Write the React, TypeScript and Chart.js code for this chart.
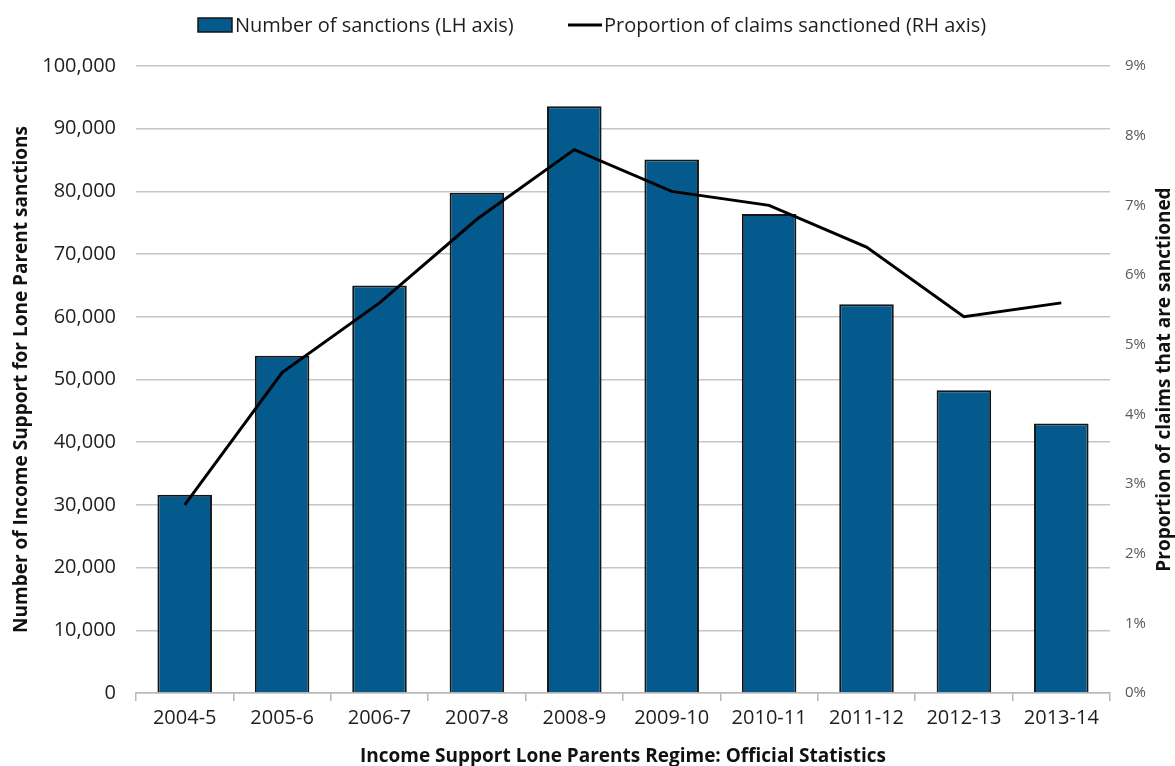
import { useEffect, useRef } from "react";
import { Chart, registerables } from "chart.js";

Chart.register(...registerables);

// Financial years on the category axis
const years = [
  "2004-5",
  "2005-6",
  "2006-7",
  "2007-8",
  "2008-9",
  "2009-10",
  "2010-11",
  "2011-12",
  "2012-13",
  "2013-14",
];

// Number of Income Support Lone Parent sanctions (left axis)
const sanctions = [31600, 53800, 65000, 79800, 93600, 85100, 76400, 62000, 48300, 43000];

// Proportion of claims sanctioned, in percent (right axis)
const proportion = [2.7, 4.6, 5.6, 6.8, 7.8, 7.2, 7.0, 6.4, 5.4, 5.6];

const barLabel = "Number of sanctions (LH axis)";
const lineLabel = "Proportion of claims sanctioned (RH axis)";
const leftTitle = "Number of Income Support for Lone Parent sanctions";
const rightTitle = "Proportion of claims that are sanctioned";
const bottomTitle = "Income Support Lone Parents Regime: Official Statistics";

const FONT = "'Open Sans', 'Noto Sans', sans-serif";
const BAR_FILL = "#045a8d";
const BAR_EDGE = "#151515";
const GRID = "#c6c6c6";
const TEXT = "#1e1e1e";

// Legend along the top and the three axis titles, drawn on the canvas
const decorations = {
  id: "decorations",
  afterDraw(chart: Chart) {
    const ctx = chart.ctx;
    const area = chart.chartArea;
    const midY = (area.top + area.bottom) / 2;
    ctx.save();

    // legend
    ctx.font = `20px ${FONT}`;
    ctx.textBaseline = "middle";
    ctx.textAlign = "left";
    const ly = 25;
    ctx.fillStyle = BAR_FILL;
    ctx.fillRect(198, ly - 7, 34, 14);
    ctx.strokeStyle = BAR_EDGE;
    ctx.lineWidth = 1.5;
    ctx.strokeRect(198, ly - 7, 34, 14);
    ctx.fillStyle = TEXT;
    ctx.fillText(barLabel, 235, ly + 1);
    ctx.strokeStyle = "#000";
    ctx.lineWidth = 3;
    ctx.beginPath();
    ctx.moveTo(568, ly);
    ctx.lineTo(602, ly);
    ctx.stroke();
    ctx.fillText(lineLabel, 604, ly + 1);

    // axis titles
    ctx.font = `bold 19px ${FONT}`;
    ctx.textAlign = "center";
    ctx.fillStyle = "#111";
    ctx.fillText(bottomTitle, (area.left + area.right) / 2, 757);

    ctx.save();
    ctx.translate(22, midY);
    ctx.rotate(-Math.PI / 2);
    ctx.fillText(leftTitle, 0, 0);
    ctx.restore();

    ctx.save();
    ctx.translate(1165, midY);
    ctx.rotate(-Math.PI / 2);
    ctx.fillText(rightTitle, 0, 0);
    ctx.restore();

    ctx.restore();
  },
};

export default function App() {
  const canvasRef = useRef<HTMLCanvasElement | null>(null);

  useEffect(() => {
    document.body.style.margin = "0";
    const canvas = canvasRef.current;
    if (!canvas) return;

    const chart = new Chart(canvas, {
      type: "bar",
      data: {
        labels: years,
        datasets: [
          {
            type: "line",
            label: lineLabel,
            data: proportion,
            yAxisID: "y1",
            borderColor: "#000",
            borderWidth: 3,
            pointRadius: 0,
            tension: 0,
            order: 0,
          },
          {
            type: "bar",
            label: barLabel,
            data: sanctions,
            yAxisID: "y",
            backgroundColor: BAR_FILL,
            borderColor: BAR_EDGE,
            borderWidth: 2,
            barPercentage: 0.56,
            categoryPercentage: 1,
            order: 1,
          },
        ],
      },
      options: {
        responsive: false,
        animation: false,
        layout: { padding: { top: 66, left: 0, right: 0, bottom: 0 } },
        plugins: {
          legend: { display: false },
          tooltip: { enabled: false },
          title: { display: false },
        },
        scales: {
          x: {
            offset: true,
            grid: {
              offset: true,
              drawOnChartArea: false,
              drawTicks: true,
              tickLength: 8,
              color: "#b8b8b8",
              lineWidth: 1.5,
            },
            border: { display: true, color: "#b8b8b8", width: 1.5 },
            ticks: {
              color: TEXT,
              font: { family: FONT, size: 20 },
              padding: 5,
              maxRotation: 0,
              autoSkip: false,
            },
            afterFit(scale: any) {
              scale.height = 73;
            },
          },
          y: {
            position: "left",
            min: 0,
            max: 100000,
            ticks: {
              stepSize: 10000,
              color: TEXT,
              font: { family: FONT, size: 20 },
              padding: 20,
              callback: (v: any) => Number(v).toLocaleString("en-US"),
            },
            grid: { color: GRID, lineWidth: 1.5, drawTicks: false },
            border: { display: false },
            afterFit(scale: any) {
              scale.width = 136;
            },
          },
          y1: {
            position: "right",
            min: 0,
            max: 9,
            ticks: {
              stepSize: 1,
              color: "#595959",
              font: { family: FONT, size: 15 },
              padding: 15,
              callback: (v: any) => `${v}%`,
            },
            grid: { display: false, drawTicks: false },
            border: { display: false },
            afterFit(scale: any) {
              scale.width = 65;
            },
          },
        },
      },
      plugins: [decorations],
    });

    return () => chart.destroy();
  }, []);

  return (
    <div style={{ width: 1175, height: 766, background: "#fff" }}>
      <canvas ref={canvasRef} width={1175} height={766} />
    </div>
  );
}
